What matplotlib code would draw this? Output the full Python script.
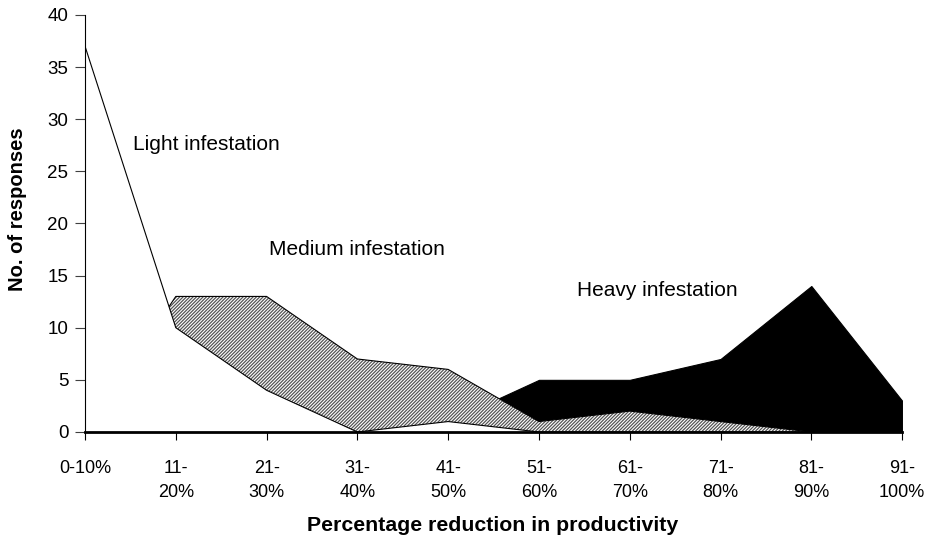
import matplotlib
matplotlib.use("Agg")
import matplotlib.pyplot as plt
import numpy as np

plt.rcParams["font.family"] = ["Liberation Sans", "DejaVu Sans"]
plt.rcParams["hatch.linewidth"] = 0.9

# categories on the x axis
categories = ["0-10%", "11-\n20%", "21-\n30%", "31-\n40%", "41-\n50%",
              "51-\n60%", "61-\n70%", "71-\n80%", "81-\n90%", "91-\n100%"]

# responses per infestation level
light = [37, 10, 4, 0, 1, 0, 0, 0, 0, 0]
medium = [0, 13, 13, 7, 6, 1, 2, 1, 0, 0]
heavy = [0, 0, 0, 0, 1, 5, 5, 7, 14, 3]

x = np.arange(len(categories))

fig = plt.figure(figsize=(9.26, 5.42), dpi=100)
ax = fig.add_axes([0.0918, 0.203, 0.8824, 0.7695])

# heavy at the back, light in front
ax.fill_between(x, heavy, 0, facecolor="black", edgecolor="black", linewidth=0.8, zorder=1)
ax.fill_between(x, medium, 0, facecolor="white", edgecolor="#555555", hatch="//////////",
                linewidth=0, zorder=2)
ax.plot(x, medium, color="black", lw=0.8, zorder=2.1)
ax.fill_between(x, light, 0, facecolor="white", edgecolor="none", zorder=3)
ax.plot(x, light, color="black", lw=0.8, zorder=3.1)

ax.text(0.53, 27, "Light infestation", fontsize=15)
ax.text(2.03, 17, "Medium infestation", fontsize=15)
ax.text(5.42, 13.0, "Heavy infestation", fontsize=15)

ax.set_xlim(0, 9)
ax.set_ylim(0, 40)
ax.set_yticks(range(0, 41, 5))
ax.set_xticks(x)
ax.set_xticklabels(categories, fontsize=13, linespacing=1.55, va="top")
ax.tick_params(axis="y", labelsize=13.5, length=7, width=0.8, color="#404040", pad=5)
ax.tick_params(axis="x", length=6, width=0.8, pad=14)

for s in ["top", "right"]:
    ax.spines[s].set_visible(False)
ax.spines["bottom"].set_linewidth(2)
ax.spines["left"].set_linewidth(0.8)
for s in ["bottom", "left"]:
    ax.spines[s].set_zorder(5)

fig.text(0.5322, 0.0203, "Percentage reduction in productivity", fontsize=15.3,
         fontweight="bold", ha="center", va="baseline")
fig.text(0.019, 0.614, "No. of responses", fontsize=14.5, fontweight="bold",
         rotation=90, ha="center", va="center")

fig.savefig("out.png", dpi=100)
